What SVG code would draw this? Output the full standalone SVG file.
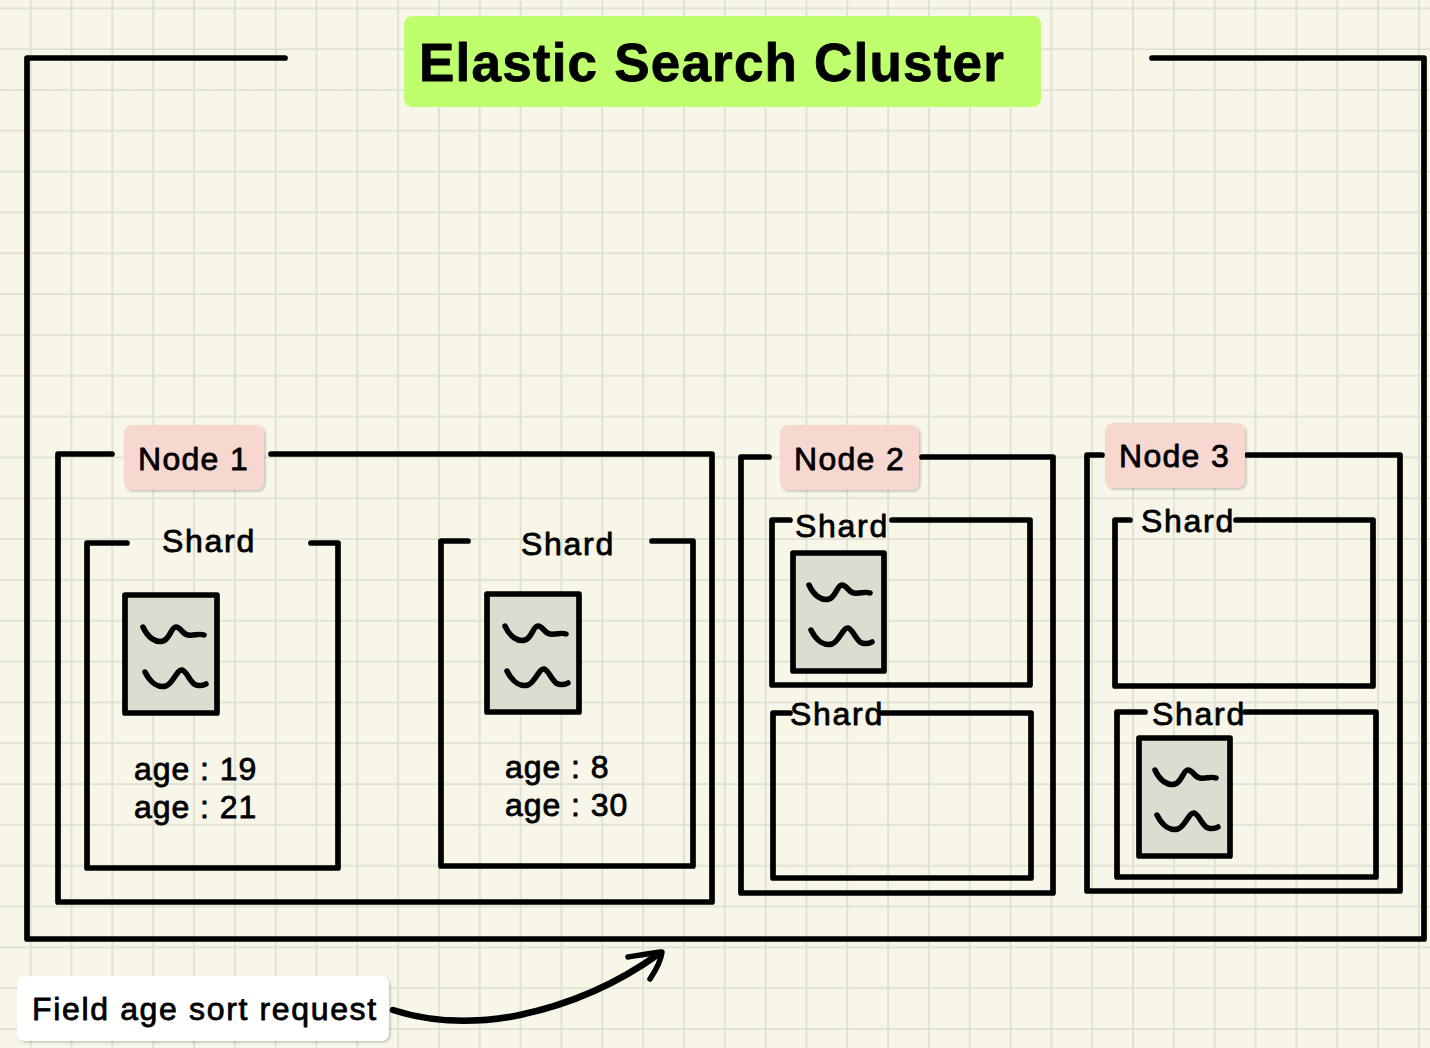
<svg xmlns="http://www.w3.org/2000/svg" xmlns:xlink="http://www.w3.org/1999/xlink" width="1430" height="1048" viewBox="0 0 1430 1048">
<style>
.f{fill:none;stroke:#000;stroke-width:5.7;stroke-linecap:round;stroke-linejoin:round}
.t{font-family:"Liberation Sans",Arial,sans-serif;fill:#000;stroke:#000;stroke-width:.8;stroke-linejoin:round}
.s{font-size:32px;letter-spacing:1.3px}
.h{font-size:32px;letter-spacing:1.7px}
.a{font-size:32px;letter-spacing:.95px}
.doc{fill:#dcdcd0;stroke:#000;stroke-width:5.7;stroke-linejoin:round}
.w{fill:none;stroke:#000;stroke-width:5.5;stroke-linecap:round;stroke-linejoin:round}
.pink{fill:#f6d8d0}
</style>
<defs>
<pattern id="g" width="40.83" height="40.83" patternUnits="userSpaceOnUse" x="10.7" y="-11.7">
<path d="M20 0V40.83M0 20H40.83" stroke="#e0e1d3" stroke-width="1.9" fill="none"/>
</pattern>
<filter id="sh" x="-10%" y="-10%" width="125%" height="125%"><feDropShadow dx="1.5" dy="1.5" stdDeviation="1.2" flood-color="#000" flood-opacity=".22"/></filter>
<g id="d"><path class="w" d="M-30 -26C-25 -15 -17 -10 -10 -12C-3 -14 -2 -26 3 -26C8 -26 9 -19 15 -18C21 -17 26 -20 31 -18"/><path class="w" d="M-28 19C-22 31 -14 35 -7 33C0 31 4 16 9 17C14 18 17 30 23 32C27 33 30 33 33 31"/></g>
</defs>
<rect width="1430" height="1048" fill="#f7f6e9"/>
<rect width="1430" height="1048" fill="url(#g)"/>
<g id="cluster">
<path class="f" d="M285 58H27V939H1424V58H1152"/>
<rect x="404" y="16" width="637" height="91" rx="8" fill="#bfff6e"/>
<text class="t" x="419" y="81" font-size="53" font-weight="700" style="letter-spacing:1.2px">Elastic Search Cluster</text>
</g>
<g id="node1">
<path class="f" d="M112 454H58V902H712V454H271"/>
<rect x="124" y="425" width="140" height="65" rx="8" class="pink" filter="url(#sh)"/>
<text class="t s" x="138" y="470">Node 1</text>
</g>
<g id="shard1a">
<path class="f" d="M127 543H87V868H338V543H311"/>
<text class="t h" x="162" y="552">Shard</text>
<rect x="125" y="595" width="92" height="118" class="doc"/>
<use xlink:href="#d" href="#d" x="173" y="653"/>
<text class="t a" x="134" y="780">age : 19</text>
<text class="t a" x="134" y="818">age : 21</text>
</g>
<g id="shard1b">
<path class="f" d="M468 541H441V866H693V541H652"/>
<text class="t h" x="521" y="555">Shard</text>
<rect x="487" y="594" width="92" height="118" class="doc"/>
<use xlink:href="#d" href="#d" x="535" y="652"/>
<text class="t a" x="505" y="778">age : 8</text>
<text class="t a" x="505" y="816">age : 30</text>
</g>
<g id="node2">
<path class="f" d="M769 457H741V893H1053V457H922"/>
<rect x="780" y="425" width="139" height="65" rx="8" class="pink" filter="url(#sh)"/>
<text class="t s" x="794" y="470">Node 2</text>
</g>
<g id="shard2a">
<path class="f" d="M790 520H772V685H1030V520H892"/>
<text class="t h" x="795" y="537">Shard</text>
<rect x="793" y="553" width="91" height="118" class="doc"/>
<use xlink:href="#d" href="#d" x="839" y="611"/>
</g>
<g id="shard2b">
<path class="f" d="M790 713H773V878H1031V713H882"/>
<text class="t h" x="790" y="725">Shard</text>
</g>
<g id="node3">
<path class="f" d="M1102 455H1087V891H1400V455H1247"/>
<rect x="1105" y="423" width="140" height="65" rx="8" class="pink" filter="url(#sh)"/>
<text class="t s" x="1119" y="467">Node 3</text>
</g>
<g id="shard3a">
<path class="f" d="M1130 520H1115V686H1373V520H1236"/>
<text class="t h" x="1141" y="532">Shard</text>
</g>
<g id="shard3b">
<path class="f" d="M1145 712H1117V877H1376V712H1245"/>
<text class="t h" x="1152" y="725">Shard</text>
<rect x="1139" y="738" width="91" height="118" class="doc"/>
<use xlink:href="#d" href="#d" x="1185" y="796"/>
</g>
<g id="request">
<rect x="17" y="976" width="372" height="65" rx="8" fill="#fff" filter="url(#sh)"/>
<text class="t" x="32" y="1020" font-size="32" style="letter-spacing:1.65px">Field age sort request</text>
</g>
<g id="connectors">
<path d="M393 1010C430 1022 470 1024 515 1016C570 1005 620 982 660 953" fill="none" stroke="#000" stroke-width="6.5" stroke-linecap="round"/>
<path d="M628 957C640 955 651 953 662 952C661 961 656 970 650 979" fill="none" stroke="#000" stroke-width="5.5" stroke-linecap="round" stroke-linejoin="round"/>
</g>
</svg>
